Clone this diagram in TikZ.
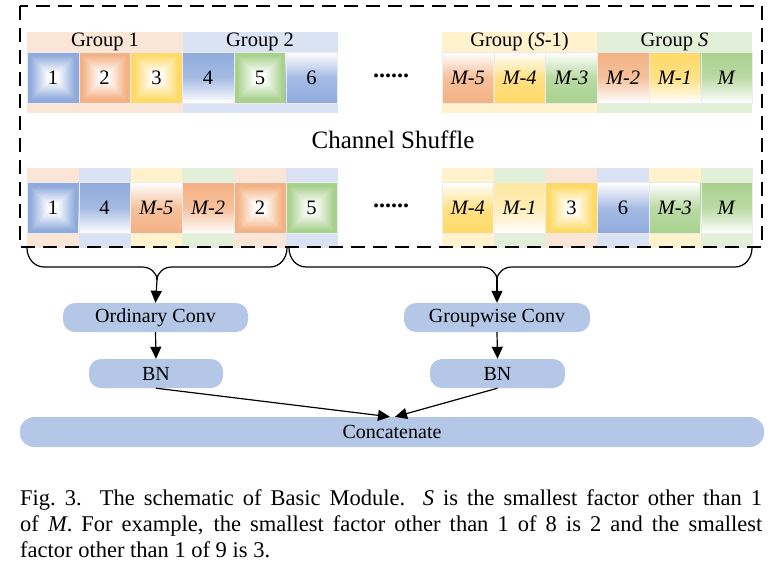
\documentclass[tikz,border=0pt]{standalone}
\usepackage{fontspec}
\setmainfont{Liberation Serif}
\usetikzlibrary{arrows.meta,calc}
\definecolor{cblue}{RGB}{143,170,220}
\definecolor{corange}{RGB}{244,177,131}
\definecolor{cyellow}{RGB}{255,217,102}
\definecolor{cgreen}{RGB}{169,209,142}
\definecolor{bblue}{RGB}{218,227,243}
\definecolor{borange}{RGB}{251,229,214}
\definecolor{byellow}{RGB}{255,242,204}
\definecolor{bgreen}{RGB}{226,240,217}
\definecolor{boxblue}{RGB}{180,199,231}
\tikzset{
  cellbox/.style={minimum width=51.75pt, minimum height=51pt, inner sep=0pt, outer sep=0pt,
    draw=black!8, line width=0.4pt, font=\fontsize{20.5}{24}\selectfont},
  rad/.style={cellbox, path picture={
    \foreach \i in {0,...,21}{
      \pgfmathtruncatemacro\pc{\i<4 ? 100 : max(3,100-(\i-3)*5.5)}
      \fill[#1!\pc!white] ([shift={(\i*1pt,-\i*1pt)}]path picture bounding box.north west)
        rectangle ([shift={(-\i*1pt,\i*1pt)}]path picture bounding box.south east);}}},
  topcol/.style={cellbox, top color=#1, bottom color=white, middle color=#1!80!white},
  botcol/.style={cellbox, top color=white, bottom color=#1, middle color=#1!80!white},
  bandlbl/.style={inner sep=0pt, font=\fontsize{20.5}{24}\selectfont},
  procbox/.style={fill=boxblue, rounded corners=12pt, minimum height=29pt, inner sep=0pt,
    font=\fontsize{20}{24}\selectfont},
  conn/.style={line width=1.2pt, -{Triangle[length=12pt,width=11pt]}},
  brace/.style={line width=1.2pt},
  dots/.style={font=\fontsize{24}{24}\selectfont\bfseries, inner sep=0pt}
}
\begin{document}
\begin{tikzpicture}[x=1pt,y=-1pt]
\useasboundingbox (0,0) rectangle (781,566);
% ---------- row 1 bands ----------
\fill[borange] (27,32) rectangle (182.5,52);
\fill[bblue] (182.5,32) rectangle (338,52);
\fill[byellow] (442,32) rectangle (597,52);
\fill[bgreen] (597,32) rectangle (752,52);
\fill[borange] (27,103) rectangle (182.5,113);
\fill[bblue] (182.5,103) rectangle (338,113);
\fill[byellow] (442,103) rectangle (597,113);
\fill[bgreen] (597,103) rectangle (752,113);
\node[bandlbl] (g1) at (105,42) {Group 1};
\node[bandlbl] (g2) at (260,42) {Group 2};
\node[bandlbl] (gs1) at (519.5,42) {Group (\textit{S}-1)};
\node[bandlbl] (gs) at (674.5,42) {Group \textit{S}};
% ---------- row 1 cells ----------
\node[rad=cblue]   (a1) at (52.9,77.5) {1};
\node[rad=corange] (a2) at (104.6,77.5) {2};
\node[rad=cyellow] (a3) at (156.4,77.5) {3};
\node[topcol=cblue] (a4) at (208.1,77.5) {4};
\node[rad=cgreen]  (a5) at (259.9,77.5) {5};
\node[botcol=cblue] (a6) at (311.6,77.5) {6};
\node[dots] (d1) at (391,76) {......};
\node[botcol=corange] (b1) at (467.9,77.5) {\textit{M-5}};
\node[botcol=cyellow] (b2) at (519.6,77.5) {\textit{M-4}};
\node[botcol=cgreen]  (b3) at (571.4,77.5) {\textit{M-3}};
\node[topcol=corange] (b4) at (623.1,77.5) {\textit{M-2}};
\node[topcol=cyellow] (b5) at (674.9,77.5) {\textit{M-1}};
\node[topcol=cgreen]  (b6) at (726.6,77.5) {\textit{M}};
% ---------- label ----------
\node[font=\fontsize{25}{28}\selectfont, inner sep=0pt] (cs) at (393,140) {Channel Shuffle};
% ---------- row 2 bands ----------
\foreach \xa/\col in {27/borange,78.75/bblue,130.5/byellow,182.25/bgreen,234/borange,285.75/bblue,
                      442/byellow,493.75/bgreen,545.5/borange,597.25/bblue,649/byellow,700.75/bgreen}{
  \fill[\col] (\xa,168) rectangle ++(51.75,14);
  \fill[\col] (\xa,234) rectangle ++(51.75,14);
}
\node[rad=cblue]    (c1) at (52.9,208) {1};
\node[topcol=cblue] (c2) at (104.6,208) {4};
\node[botcol=corange] (c3) at (156.4,208) {\textit{M-5}};
\node[topcol=corange] (c4) at (208.1,208) {\textit{M-2}};
\node[rad=corange]  (c5) at (259.9,208) {2};
\node[rad=cgreen]   (c6) at (311.6,208) {5};
\node[dots] (d2) at (391,206) {......};
\node[botcol=cyellow] (e1) at (467.9,208) {\textit{M-4}};
\node[topcol=cyellow!60!white] (e2) at (519.6,208) {\textit{M-1}};
\node[rad=cyellow]  (e3) at (571.4,208) {3};
\node[botcol=cblue] (e4) at (623.1,208) {6};
\node[botcol=cgreen] (e5) at (674.9,208) {\textit{M-3}};
\node[topcol=cgreen] (e6) at (726.6,208) {\textit{M}};
% ---------- dashed frame ----------
\draw[line width=1.8pt, dash pattern=on 14pt off 8pt] (20,6) rectangle (762,247);
% ---------- braces ----------
\coordinate (t1) at (157,280);
\coordinate (t2) at (497,280);
\draw[brace] (27,248) to[out=-90,in=180] (44,267) -- (142,267) to[out=0,in=90] (t1);
\draw[brace] (287,248) to[out=-90,in=0] (270,267) -- (172,267) to[out=180,in=90] (t1);
\draw[brace] (289,248) to[out=-90,in=180] (306,267) -- (482,267) to[out=0,in=90] (t2);
\draw[brace] (752,248) to[out=-90,in=0] (735,267) -- (512,267) to[out=180,in=90] (t2);
% ---------- processing boxes ----------
\node[procbox, minimum width=185pt] (oc) at (155.5,317.5) {Ordinary Conv};
\node[procbox, minimum width=186pt] (gc) at (497,317.5) {Groupwise Conv};
\node[procbox, minimum width=134pt] (bn1) at (156,373.5) {BN};
\node[procbox, minimum width=135pt] (bn2) at (497.5,373.5) {BN};
\node[procbox, minimum width=744pt, minimum height=30pt, rounded corners=14pt] (cat) at (392,432) {Concatenate};
% ---------- connectors ----------
\draw[conn] (t1) -- (oc.north);
\draw[conn] (t2) -- (gc.north);
\draw[conn] (oc.south) -- (bn1.north);
\draw[conn] (gc.south) -- (bn2.north);
\draw[conn] (bn1.south) -- ($(cat.north)+(-2,0)$);
\draw[conn] (bn2.south) -- ($(cat.north)+(3,0)$);
% ---------- caption ----------
\node[anchor=base west, inner sep=0pt] (cap) at (20,505) {\parbox[t]{742pt}{\fontsize{22.5}{26}\selectfont
Fig.~3.\ \ The schematic of Basic Module. \textit{S} is the smallest factor other than 1\linebreak
of \textit{M}. For example, the smallest factor other than 1 of 8 is 2 and the smallest\linebreak
factor other than 1 of 9 is 3.}};
\end{tikzpicture}
\end{document}
